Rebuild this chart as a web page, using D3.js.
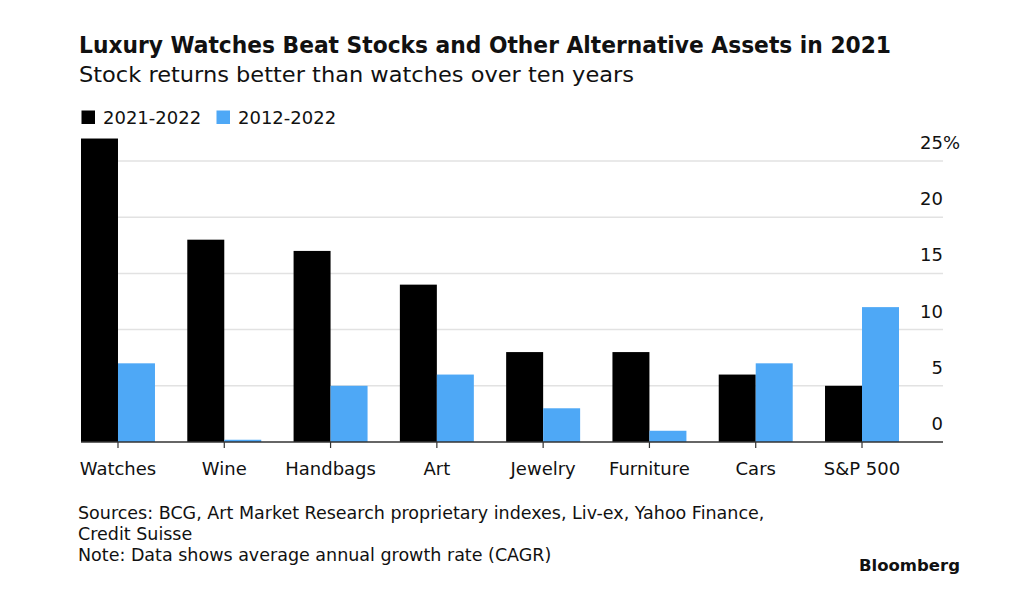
<!DOCTYPE html>
<html>
<head>
<meta charset="utf-8">
<script src="https://cdn.jsdelivr.net/npm/d3@7"></script>
<style>
  body { margin: 0; background: #fff; }
  text { font-family: "DejaVu Sans", "Liberation Sans", Arial, sans-serif; fill: #111; }
</style>
</head>
<body>
<div id="chart"></div>
<script>
// data (CAGR %)
var categories = ["Watches", "Wine", "Handbags", "Art", "Jewelry", "Furniture", "Cars", "S&P 500"];
var series = ["2021-2022", "2012-2022"];
var oneYear = [27, 18, 17, 14, 8, 8, 6, 5];
var tenYear = [7, 0.2, 5, 6, 3, 1, 7, 12];
var yTicks = [0, 5, 10, 15, 20, 25];

var colors = ["#000000", "#4ea8f6"];

var svgWidth = 1024;
var svgHeight = 602;

var svg = d3.select("#chart")
  .append("svg")
  .attr("width", svgWidth)
  .attr("height", svgHeight);

// title block
svg.append("text")
  .attr("x", 79)
  .attr("y", 53)
  .attr("textLength", 812)
  .attr("lengthAdjust", "spacingAndGlyphs")
  .style("font-size", "23px")
  .style("font-weight", "bold")
  .text("Luxury Watches Beat Stocks and Other Alternative Assets in 2021");

svg.append("text")
  .attr("x", 79)
  .attr("y", 81.5)
  .attr("textLength", 555)
  .attr("lengthAdjust", "spacingAndGlyphs")
  .style("font-size", "22px")
  .text("Stock returns better than watches over ten years");

// legend
var legendX = [81.5, 216.5];
series.forEach(function(s, i) {
  svg.append("rect")
    .attr("x", legendX[i])
    .attr("y", 110.5)
    .attr("width", 13.5)
    .attr("height", 13.5)
    .attr("fill", colors[i]);
  svg.append("text")
    .attr("x", legendX[i] + 21.5)
    .attr("y", 124)
    .style("font-size", "18px")
    .text(s);
});

// scales
var x0 = d3.scaleBand()
  .domain(categories)
  .range([81, 899])
  .paddingInner(0.304)
  .paddingOuter(0);

var x1 = d3.scaleBand()
  .domain(series)
  .range([0, x0.bandwidth()]);

var y = d3.scaleLinear()
  .domain([0, 25])
  .range([442, 161]);

// gridlines
svg.append("g")
  .selectAll("line")
  .data(yTicks.filter(d => d > 0))
  .enter()
  .append("line")
  .attr("x1", 81)
  .attr("x2", 943)
  .attr("y1", d => y(d))
  .attr("y2", d => y(d))
  .attr("stroke", "#e2e2e2")
  .attr("stroke-width", 1.5);

// y labels sit above their gridline
svg.append("g")
  .selectAll("text")
  .data(yTicks)
  .enter()
  .append("text")
  .attr("x", 943)
  .attr("y", d => y(d) - 12)
  .attr("text-anchor", "end")
  .style("font-size", "18px")
  .text(d => d);

svg.append("text")
  .attr("x", 943)
  .attr("y", y(25) - 12)
  .style("font-size", "18px")
  .text("%");

// bars
var rows = categories.map(function(c, i) {
  return { cat: c, vals: [oneYear[i], tenYear[i]] };
});

var groups = svg.append("g")
  .selectAll("g")
  .data(rows)
  .enter()
  .append("g")
  .attr("transform", d => `translate(${x0(d.cat)}, 0)`);

groups.selectAll("rect")
  .data(d => d.vals.map((v, i) => ({ key: series[i], v: v, i: i })))
  .enter()
  .append("rect")
  .attr("x", d => x1(d.key))
  .attr("width", x1.bandwidth())
  .attr("y", d => y(Math.max(0, d.v)))
  .attr("height", d => Math.abs(y(d.v) - y(0)))
  .attr("fill", d => colors[d.i]);

// x axis
var bottomAxis = d3.axisBottom(x0)
  .tickSize(6)
  .tickSizeOuter(0)
  .tickPadding(14);

var xAxis = svg.append("g")
  .attr("transform", `translate(0, ${y(0)})`)
  .call(bottomAxis);

xAxis.select(".domain")
  .attr("d", "M81,0H943")
  .attr("stroke", "#333")
  .attr("stroke-width", 1.5);

xAxis.selectAll(".tick line")
  .attr("stroke", "#333")
  .attr("stroke-width", 1.2);

xAxis.selectAll(".tick text")
  .style("font-family", "'DejaVu Sans', 'Liberation Sans', Arial, sans-serif")
  .style("font-size", "18px")
  .attr("fill", "#111");

// footnotes
var notes = [
  "Sources: BCG, Art Market Research proprietary indexes, Liv-ex, Yahoo Finance,",
  "Credit Suisse",
  "Note: Data shows average annual growth rate (CAGR)"
];
svg.append("g")
  .selectAll("text")
  .data(notes)
  .enter()
  .append("text")
  .attr("x", 78)
  .attr("y", (d, i) => 519 + i * 21)
  .style("font-size", "17.5px")
  .attr("fill", "#222")
  .text(d => d);

svg.append("text")
  .attr("x", 960)
  .attr("y", 571)
  .attr("text-anchor", "end")
  .style("font-size", "16.5px")
  .style("font-weight", "bold")
  .text("Bloomberg");
</script>
</body>
</html>
